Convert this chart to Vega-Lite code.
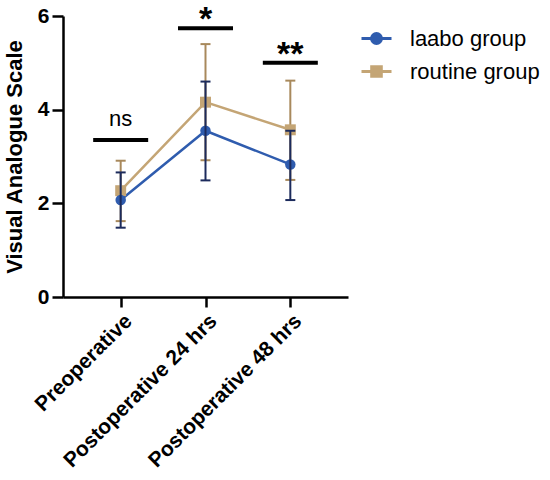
{
  "$schema": "https://vega.github.io/schema/vega-lite/v6.json",
  "autosize": {"type": "none"},
  "width": 285,
  "height": 281,
  "padding": {"left": 63, "top": 16, "right": 202, "bottom": 183},
  "background": "white",
  "config": {
    "view": {"stroke": null},
    "font": "Liberation Sans",
    "axis": {"grid": false, "domainColor": "black", "tickColor": "black", "domainWidth": 2.5, "tickWidth": 2.5, "labelColor": "black", "titleColor": "black", "labelFont": "Liberation Sans", "titleFont": "Liberation Sans", "labelLimit": 0}
  },
  "datasets": {
    "stats": [
      {"time": "Preoperative", "group": "laabo group", "mean": 2.07, "lo": 1.48, "hi": 2.66},
      {"time": "Postoperative 24 hrs", "group": "laabo group", "mean": 3.55, "lo": 2.49, "hi": 4.60},
      {"time": "Postoperative 48 hrs", "group": "laabo group", "mean": 2.83, "lo": 2.07, "hi": 3.55},
      {"time": "Preoperative", "group": "routine group", "mean": 2.27, "lo": 1.62, "hi": 2.91},
      {"time": "Postoperative 24 hrs", "group": "routine group", "mean": 4.16, "lo": 2.92, "hi": 5.40},
      {"time": "Postoperative 48 hrs", "group": "routine group", "mean": 3.57, "lo": 2.50, "hi": 4.62}
    ],
    "sig": [
      {"time": "Preoperative", "bar": 3.35, "label": "ns", "ty": 3.55},
      {"time": "Postoperative 24 hrs", "bar": 5.74, "label": "*", "ty": 5.88},
      {"time": "Postoperative 48 hrs", "bar": 5.0, "label": "**", "ty": 5.12}
    ]
  },
  "encoding": {
    "x": {
      "field": "time", "type": "ordinal",
      "sort": ["Preoperative", "Postoperative 24 hrs", "Postoperative 48 hrs"],
      "scale": {"type": "point", "padding": 0.68},
      "axis": {"title": null, "labelAngle": -45, "labelFontSize": 21, "labelFontWeight": "bold", "tickSize": 10, "labelPadding": 3, "labelLimit": 0}
    }
  },
  "layer": [
    {
      "data": {"name": "stats"},
      "mark": {"type": "line", "strokeWidth": 2.5},
      "encoding": {
        "y": {"field": "mean", "type": "quantitative", "scale": {"domain": [0, 6]},
          "axis": {"values": [0, 2, 4, 6], "title": "Visual Analogue Scale", "titleFontSize": 22, "titleFontWeight": "bold", "titlePadding": 11, "titleLimit": 0, "labelFontSize": 21, "labelFontWeight": "bold", "tickSize": 11, "labelPadding": 3}},
        "color": {"field": "group", "type": "nominal",
          "scale": {"domain": ["laabo group", "routine group"], "range": ["#2f5cae", "#c4a575"]},
          "legend": {
            "title": null, "orient": "right", "offset": 6, "padding": 6,
            "labelFontSize": 22, "labelFont": "Liberation Sans", "labelColor": "black", "labelOffset": 17, "labelLimit": 0,
            "symbolSize": 900, "symbolStrokeWidth": 3, "rowPadding": 5,
            "encode": {"symbols": {"update": {
              "shape": {"signal": "datum.value === 'laabo group' ? 'M-1,0L1,0M0.33,0A0.33,0.33,0,1,1,-0.33,0A0.33,0.33,0,1,1,0.33,0Z' : 'M-1,0L1,0M-0.32,-0.32L0.32,-0.32L0.32,0.32L-0.32,0.32Z'"},
              "fill": {"signal": "datum.value === 'laabo group' ? '#2f5cae' : '#c4a575'"},
              "stroke": {"signal": "datum.value === 'laabo group' ? '#2f5cae' : '#c4a575'"},
              "strokeWidth": {"value": 3},
              "opacity": {"value": 1}
            }}}
          }}
      }
    },
    {
      "data": {"name": "stats"},
      "transform": [{"filter": "datum.group === 'routine group'"}],
      "mark": {"type": "rule", "color": "#a8895c", "strokeWidth": 2},
      "encoding": {"y": {"field": "lo", "type": "quantitative"}, "y2": {"field": "hi"}}
    },
    {
      "data": {"name": "stats"},
      "transform": [{"filter": "datum.group === 'routine group'"}, {"fold": ["lo", "hi"], "as": ["end", "val"]}],
      "mark": {"type": "tick", "color": "#a8895c", "opacity": 1, "size": 10, "thickness": 2, "orient": "horizontal"},
      "encoding": {"y": {"field": "val", "type": "quantitative"}}
    },
    {
      "data": {"name": "stats"},
      "transform": [{"filter": "datum.group === 'routine group'"}],
      "mark": {"type": "point", "filled": true, "opacity": 1, "shape": "square", "color": "#c4a575", "size": 120},
      "encoding": {"y": {"field": "mean", "type": "quantitative"}}
    },
    {
      "data": {"name": "stats"},
      "transform": [{"filter": "datum.group === 'laabo group'"}],
      "mark": {"type": "point", "filled": true, "opacity": 1, "shape": "circle", "color": "#2f5cae", "size": 110},
      "encoding": {"y": {"field": "mean", "type": "quantitative"}}
    },
    {
      "data": {"name": "stats"},
      "transform": [{"filter": "datum.group === 'laabo group'"}],
      "mark": {"type": "rule", "color": "#1c2b5c", "strokeWidth": 2},
      "encoding": {"y": {"field": "lo", "type": "quantitative"}, "y2": {"field": "hi"}}
    },
    {
      "data": {"name": "stats"},
      "transform": [{"filter": "datum.group === 'laabo group'"}, {"fold": ["lo", "hi"], "as": ["end", "val"]}],
      "mark": {"type": "tick", "color": "#1c2b5c", "opacity": 1, "size": 10, "thickness": 2, "orient": "horizontal"},
      "encoding": {"y": {"field": "val", "type": "quantitative"}}
    },
    {
      "data": {"name": "sig"},
      "mark": {"type": "tick", "color": "black", "opacity": 1, "size": 55, "thickness": 4, "orient": "horizontal"},
      "encoding": {"y": {"field": "bar", "type": "quantitative"}}
    },
    {
      "data": {"name": "sig"},
      "mark": {"type": "text", "baseline": "bottom", "fontSize": 22, "font": "Liberation Sans", "color": "black"},
      "transform": [{"filter": "datum.label === 'ns'"}],
      "encoding": {"y": {"field": "ty", "type": "quantitative"}, "text": {"field": "label"}}
    },
    {
      "data": {"name": "sig"},
      "mark": {"type": "text", "baseline": "bottom", "fontSize": 34, "fontWeight": "bold", "font": "Liberation Sans", "color": "black", "dy": 15},
      "transform": [{"filter": "datum.label !== 'ns'"}],
      "encoding": {"y": {"field": "ty", "type": "quantitative"}, "text": {"field": "label"}}
    }
  ]
}
